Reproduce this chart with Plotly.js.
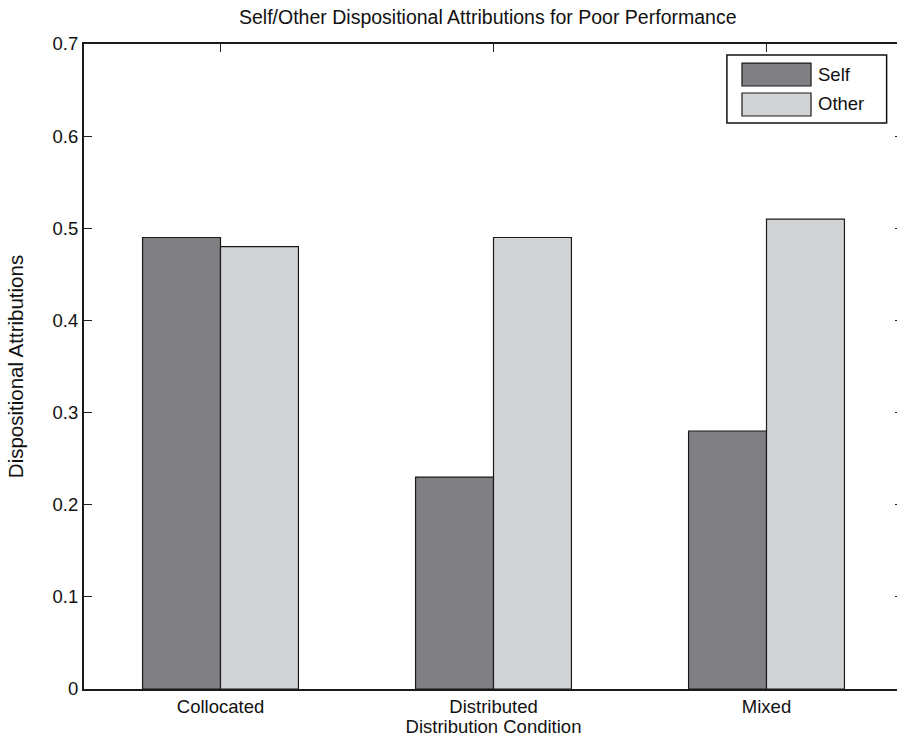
<!DOCTYPE html>
<html>
<head>
<meta charset="utf-8">
<script src="https://cdn.plot.ly/plotly-3.0.1.min.js"></script>
<style>
html, body { margin: 0; padding: 0; overflow: hidden; background: #fff; }
#chart { width: 910px; height: 737px; }
</style>
</head>
<body>
<div id="chart"></div>
<script>
const categories = ["Collocated", "Distributed", "Mixed"];
const seriesNames = ["Self", "Other"];
const selfValues = [0.49, 0.23, 0.28];
const otherValues = [0.48, 0.49, 0.51];
const yTickVals = [0, 0.1, 0.2, 0.3, 0.4, 0.5, 0.6, 0.7];
const yTickText = ["0", "0.1", "0.2", "0.3", "0.4", "0.5", "0.6", "0.7"];

const colors = ["#808084", "#d2d3d5"];
const font = "Liberation Sans, Arial, Helvetica, sans-serif";

const traces = [
  { type: "bar", name: seriesNames[0], x: categories, y: selfValues,
    marker: { color: colors[0], line: { color: "#1a1a1a", width: 1.2 } }, showlegend: false },
  { type: "bar", name: seriesNames[1], x: categories, y: otherValues,
    marker: { color: colors[1], line: { color: "#1a1a1a", width: 1.2 } }, showlegend: false }
];

// custom legend (box + wide swatches like the original)
const swatchY = [[0.9349, 0.9705], [0.8884, 0.924]];
const textY = [0.952, 0.907];
const shapes = [
  { type: "rect", xref: "paper", yref: "paper", x0: 0.785, x1: 0.980, y0: 0.8775, y1: 0.983,
    line: { color: "#111", width: 1.5 }, fillcolor: "#fff" }
];
const annotations = [];
seriesNames.forEach((n, i) => {
  shapes.push({ type: "rect", xref: "paper", yref: "paper", x0: 0.8034, x1: 0.8877,
    y0: swatchY[i][0], y1: swatchY[i][1], line: { color: "#1a1a1a", width: 1.2 }, fillcolor: colors[i] });
  annotations.push({ xref: "paper", yref: "paper", x: 0.894, y: textY[i], xanchor: "left", yanchor: "middle",
    text: n, showarrow: false, font: { family: font, size: 18.5, color: "#111" } });
});

const layout = {
  width: 910, height: 737,
  margin: { l: 84, r: 7, t: 44, b: 48 },
  paper_bgcolor: "#fff", plot_bgcolor: "#fff",
  font: { family: font, size: 18.5, color: "#111" },
  title: { text: "Self/Other Dispositional Attributions for Poor Performance",
    x: 0.493, xref: "paper", y: 1, yref: "container", yanchor: "top", pad: { t: 10 },
    font: { family: font, size: 19.5, color: "#111" } },
  barmode: "group", bargap: 0.429, bargroupgap: 0,
  xaxis: {
    type: "category", range: [-0.5, 2.5],
    showline: true, linecolor: "#1a1a1a", linewidth: 2, mirror: "ticks",
    ticks: "inside", ticklen: 8, tickcolor: "#222",
    showgrid: false, zeroline: false,
    tickfont: { family: font, size: 18.5, color: "#111" },
    title: { text: "Distribution Condition", standoff: 0, font: { family: font, size: 18.5, color: "#111" } }
  },
  yaxis: {
    range: [0, 0.7], tickvals: yTickVals, ticktext: yTickText,
    showline: true, linecolor: "#1a1a1a", linewidth: 2, mirror: "ticks",
    ticks: "inside", ticklen: 8, tickcolor: "#222",
    showgrid: false, zeroline: false,
    tickfont: { family: font, size: 18.5, color: "#111" },
    title: { text: "Dispositional Attributions", standoff: 23, font: { family: font, size: 20.5, color: "#111" } }
  },
  shapes: shapes,
  annotations: annotations
};

Plotly.newPlot("chart", traces, layout, { displayModeBar: false, staticPlot: true });
</script>
</body>
</html>
